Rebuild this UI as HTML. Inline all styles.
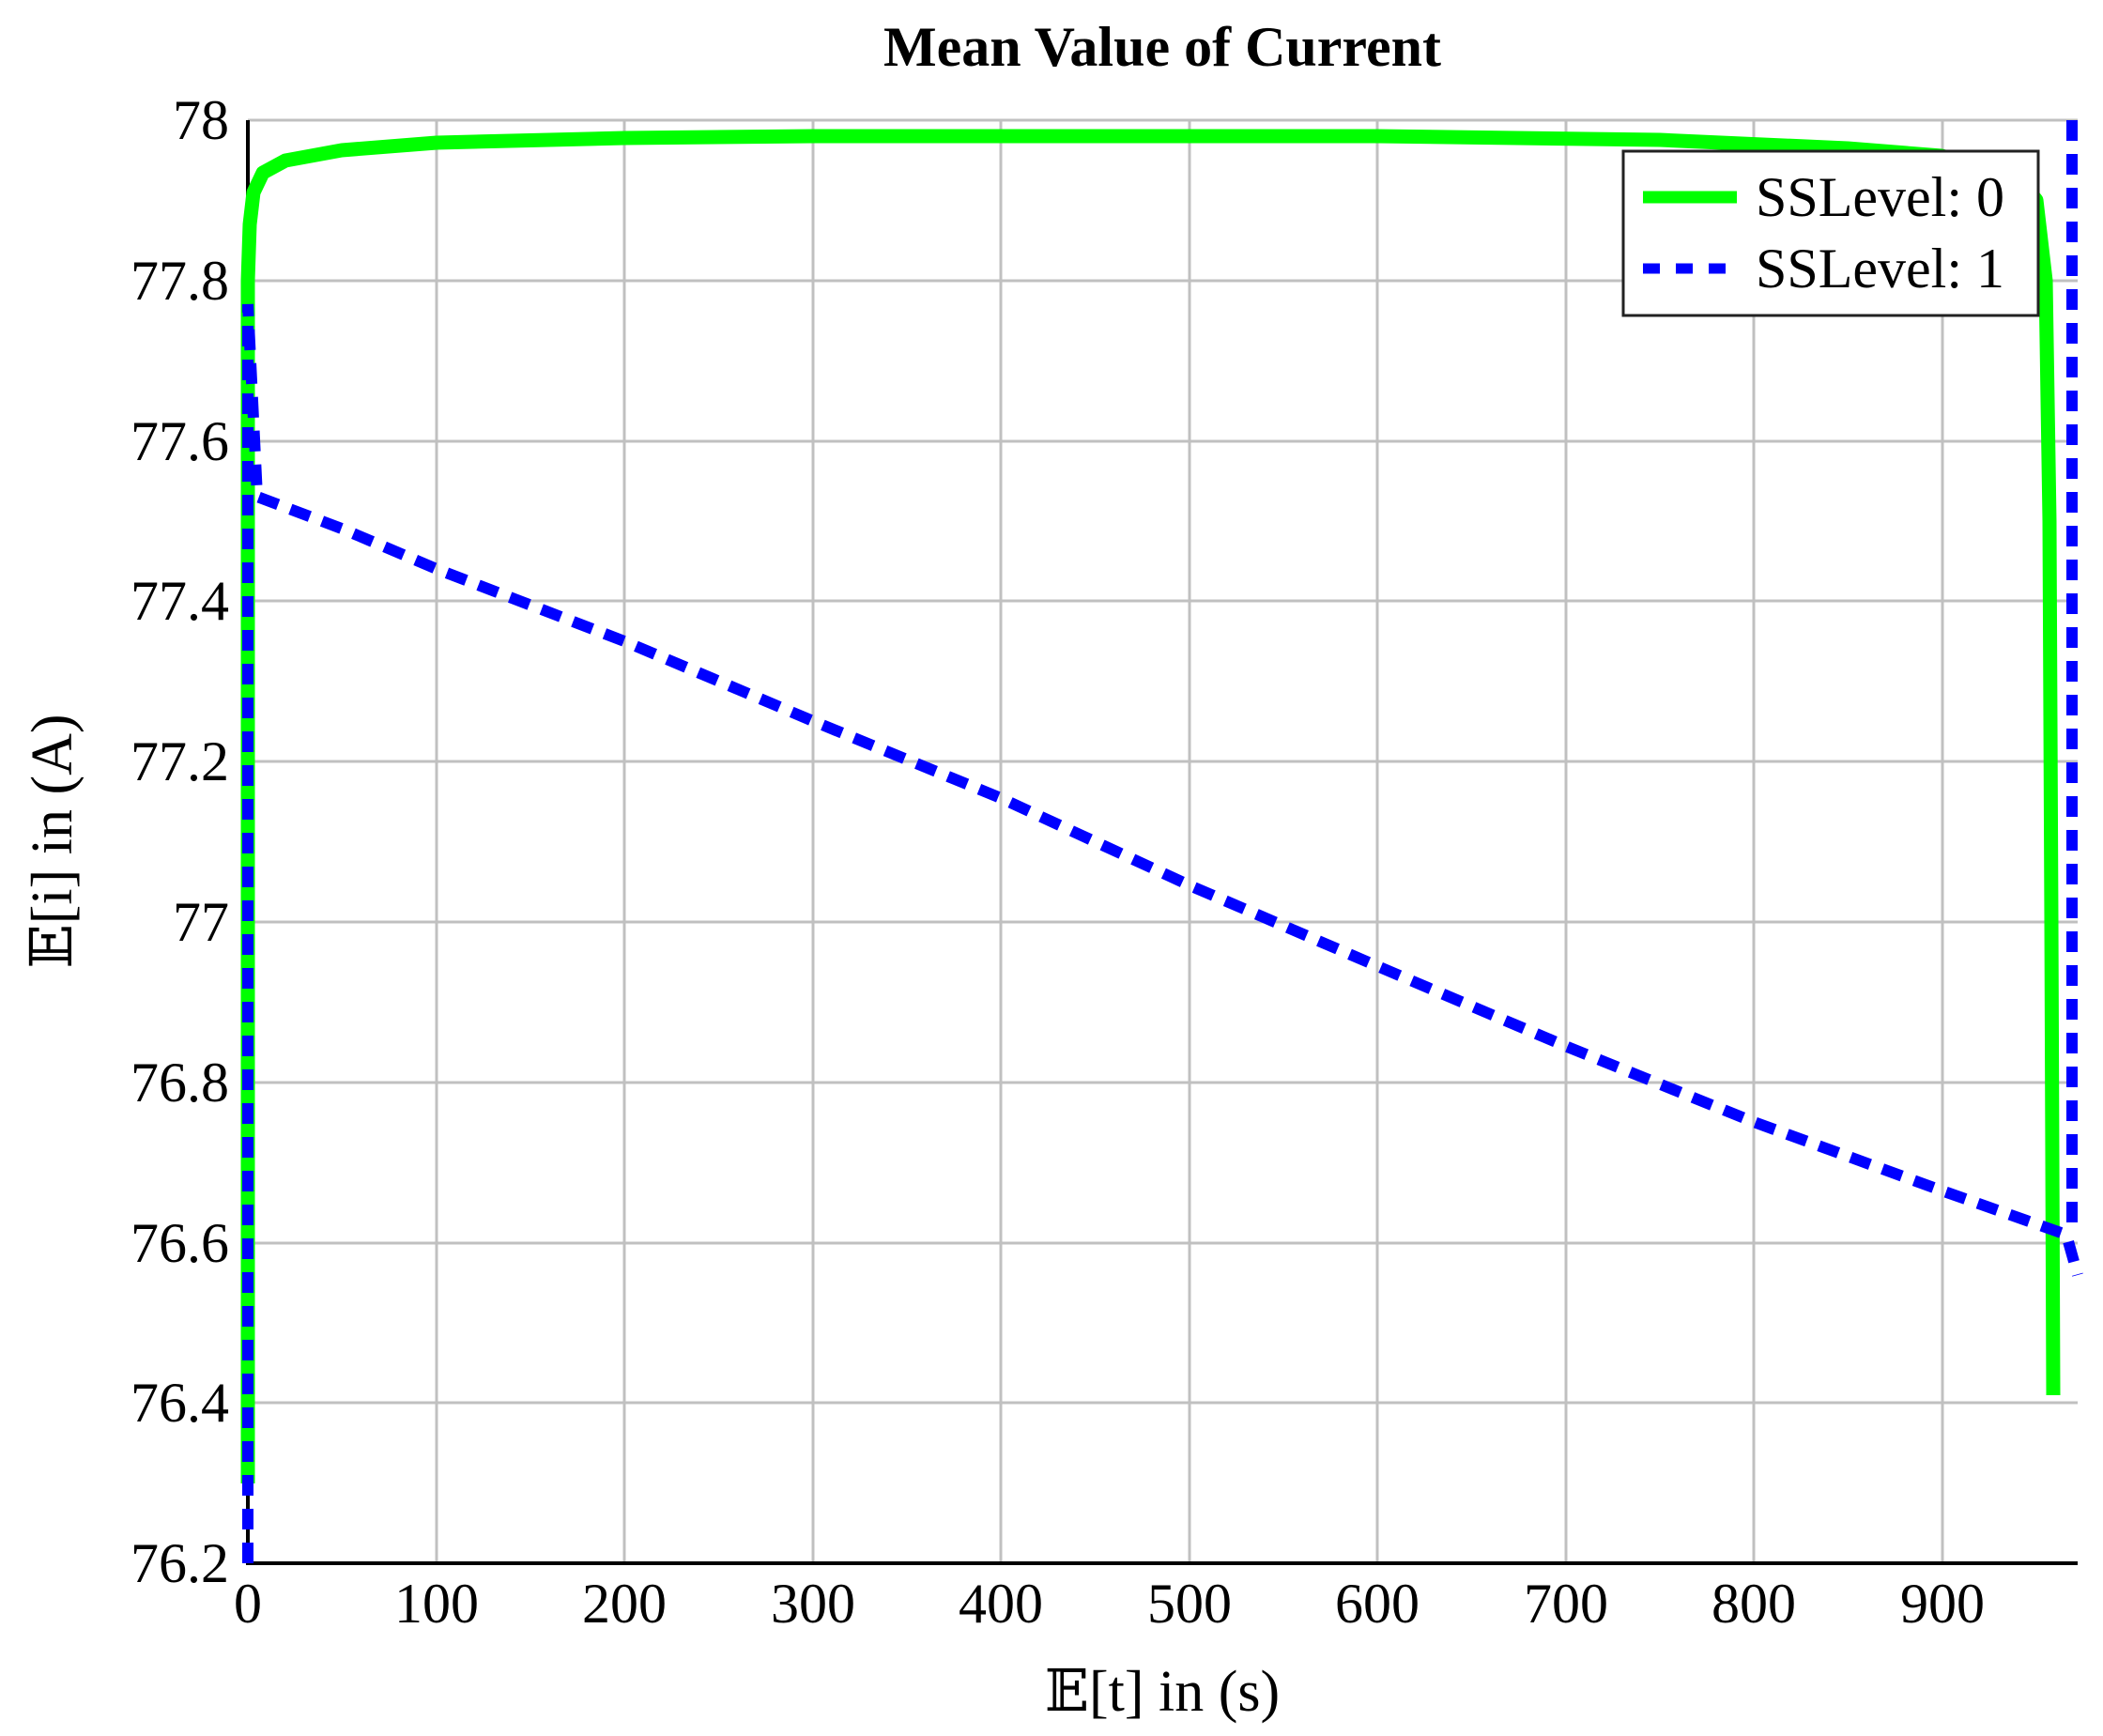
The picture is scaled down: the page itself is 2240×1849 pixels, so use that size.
<!DOCTYPE html>
<html><head><meta charset="utf-8"><style>
html,body{margin:0;padding:0;background:#fff;}
svg{display:block;}
text{font-family:"Liberation Serif","DejaVu Serif",serif;fill:#000;}
</style></head><body>
<svg width="2240" height="1849" viewBox="0 0 2240 1849" xmlns="http://www.w3.org/2000/svg">
<rect width="2240" height="1849" fill="#fff"/>
<g stroke="#c0c0c0" stroke-width="3">
<line x1="465" y1="128" x2="465" y2="1665"/><line x1="665" y1="128" x2="665" y2="1665"/>
<line x1="866" y1="128" x2="866" y2="1665"/><line x1="1066" y1="128" x2="1066" y2="1665"/>
<line x1="1267" y1="128" x2="1267" y2="1665"/><line x1="1467" y1="128" x2="1467" y2="1665"/>
<line x1="1668" y1="128" x2="1668" y2="1665"/><line x1="1868" y1="128" x2="1868" y2="1665"/>
<line x1="2069" y1="128" x2="2069" y2="1665"/>
<line x1="264" y1="128" x2="2213" y2="128"/><line x1="264" y1="299" x2="2213" y2="299"/>
<line x1="264" y1="470" x2="2213" y2="470"/><line x1="264" y1="640" x2="2213" y2="640"/>
<line x1="264" y1="811" x2="2213" y2="811"/><line x1="264" y1="982" x2="2213" y2="982"/>
<line x1="264" y1="1153" x2="2213" y2="1153"/><line x1="264" y1="1324" x2="2213" y2="1324"/>
<line x1="264" y1="1494" x2="2213" y2="1494"/>
</g>
<g stroke="#000" stroke-width="4" fill="none">
<line x1="264" y1="128" x2="264" y2="1667"/>
<line x1="262" y1="1665" x2="2213" y2="1665"/>
</g>
<polyline fill="none" stroke="#00ff00" stroke-width="15" stroke-linejoin="round" points="264,1580 264,299 266,239 270,205 280,184 304,171 364,160 465,152 665,147 866,145 1467,145 1768,149 1968,158 2068,166 2149,188 2169,213 2179,299 2183,555 2185,982 2187,1486"/>
<polyline fill="none" stroke="#0000ff" stroke-width="12" stroke-dasharray="22 14" points="264,1665 264,324 274,529 364,563 465,606 665,683 866,768 1066,850 1267,943 1467,1029 1667,1114 1868,1195 2068,1268 2201,1315 2213,1358"/>
<line x1="2207" y1="128" x2="2207" y2="1312" stroke="#0000ff" stroke-width="12" stroke-dasharray="22 14"/>
<g font-size="60" text-anchor="end">
<text x="244" y="148">78</text><text x="244" y="319">77.8</text><text x="244" y="490">77.6</text>
<text x="244" y="660">77.4</text><text x="244" y="831">77.2</text><text x="244" y="1002">77</text>
<text x="244" y="1173">76.8</text><text x="244" y="1344">76.6</text><text x="244" y="1514">76.4</text>
<text x="244" y="1685">76.2</text>
</g>
<g font-size="60" text-anchor="middle">
<text x="264" y="1728">0</text><text x="465" y="1728">100</text><text x="665" y="1728">200</text>
<text x="866" y="1728">300</text><text x="1066" y="1728">400</text><text x="1267" y="1728">500</text>
<text x="1467" y="1728">600</text><text x="1668" y="1728">700</text><text x="1868" y="1728">800</text>
<text x="2069" y="1728">900</text>
</g>
<text x="1238" y="1822" font-size="62" text-anchor="middle">𝔼[t] in (s)</text>
<text transform="translate(76,896) rotate(-90)" font-size="62" text-anchor="middle">𝔼[i] in (A)</text>
<text x="1238" y="70" font-size="60" font-weight="bold" text-anchor="middle">Mean Value of Current</text>
<rect x="1729" y="161" width="442" height="175" fill="#fff" stroke="#222" stroke-width="3"/>
<line x1="1750" y1="210" x2="1850" y2="210" stroke="#00ff00" stroke-width="13"/>
<line x1="1750" y1="286" x2="1838" y2="286" stroke="#0000ff" stroke-width="11" stroke-dasharray="18 17"/>
<text x="1870" y="230" font-size="60">SSLevel: 0</text>
<text x="1870" y="306" font-size="60">SSLevel: 1</text>
</svg>
</body></html>
